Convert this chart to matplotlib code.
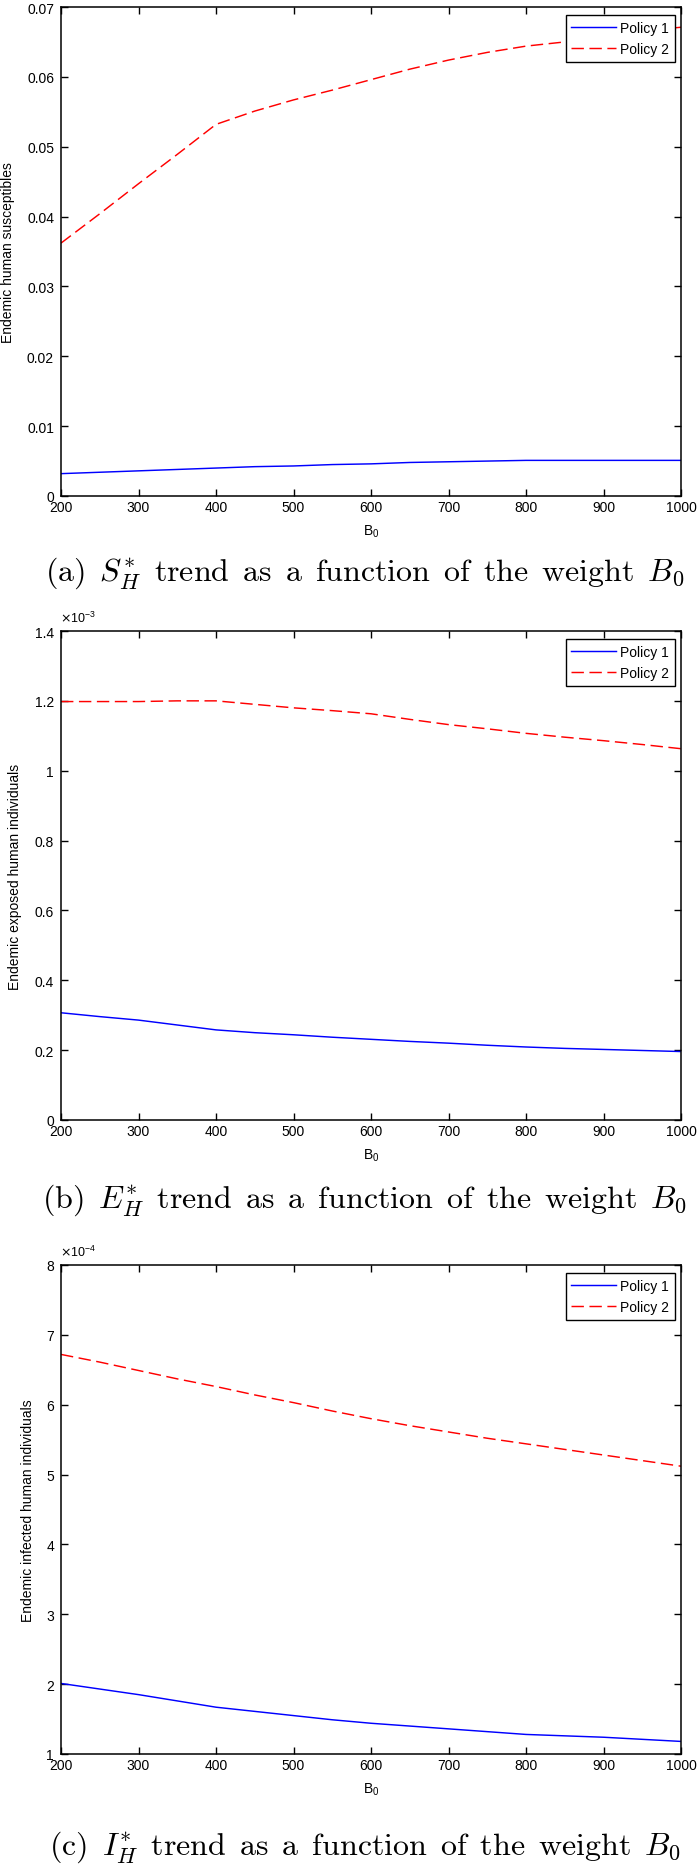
import matplotlib
matplotlib.use("Agg")
import matplotlib.pyplot as plt
from matplotlib.ticker import FuncFormatter

plt.rcParams['font.family'] = ['Liberation Sans', 'DejaVu Sans']

# ---------------- data ----------------
B0 = [200, 250, 300, 350, 400, 450, 500, 550, 600, 650, 700, 750, 800, 850, 900, 950, 1000]
xticks = [200, 300, 400, 500, 600, 700, 800, 900, 1000]

S_policy1 = [0.0032, 0.0034, 0.0036, 0.0038, 0.0040, 0.0042, 0.0043, 0.0045, 0.0046,
             0.0048, 0.0049, 0.0050, 0.0051, 0.0051, 0.0051, 0.0051, 0.0051]
S_policy2 = [0.0362, 0.0404, 0.0447, 0.0489, 0.0532, 0.0551, 0.0567, 0.0581, 0.0596,
             0.0611, 0.0624, 0.0635, 0.0644, 0.0650, 0.0660, 0.0666, 0.0671]

E_policy1 = [0.307e-3, 0.296e-3, 0.286e-3, 0.272e-3, 0.258e-3, 0.250e-3, 0.244e-3, 0.237e-3, 0.231e-3,
             0.225e-3, 0.220e-3, 0.214e-3, 0.209e-3, 0.205e-3, 0.202e-3, 0.199e-3, 0.196e-3]
E_policy2 = [1.198e-3, 1.198e-3, 1.198e-3, 1.200e-3, 1.200e-3, 1.190e-3, 1.180e-3, 1.172e-3, 1.163e-3,
             1.147e-3, 1.132e-3, 1.120e-3, 1.107e-3, 1.096e-3, 1.086e-3, 1.075e-3, 1.063e-3]

I_policy1 = [2.01e-4, 1.93e-4, 1.85e-4, 1.76e-4, 1.67e-4, 1.61e-4, 1.55e-4, 1.49e-4, 1.44e-4,
             1.40e-4, 1.36e-4, 1.32e-4, 1.28e-4, 1.26e-4, 1.24e-4, 1.21e-4, 1.18e-4]
I_policy2 = [6.72e-4, 6.61e-4, 6.49e-4, 6.37e-4, 6.26e-4, 6.14e-4, 6.03e-4, 5.91e-4, 5.80e-4,
             5.70e-4, 5.61e-4, 5.52e-4, 5.44e-4, 5.36e-4, 5.28e-4, 5.20e-4, 5.12e-4]

series_labels = ['Policy 1', 'Policy 2']
ylabels = ['Endemic human susceptibles', 'Endemic exposed human individuals',
           'Endemic infected human individuals']
SP = r'\ \,'
captions = [
    r'$\mathrm{(a)}' + SP + r'S_H^{*}' + SP + r'\mathrm{trend}' + SP + r'\mathrm{as}' + SP + r'\mathrm{a}' + SP
    + r'\mathrm{function}' + SP + r'\mathrm{of}' + SP + r'\mathrm{the}' + SP + r'\mathrm{weight}' + SP + r'B_0$',
    r'$\mathrm{(b)}' + SP + r'E_H^{*}' + SP + r'\mathrm{trend}' + SP + r'\mathrm{as}' + SP + r'\mathrm{a}' + SP
    + r'\mathrm{function}' + SP + r'\mathrm{of}' + SP + r'\mathrm{the}' + SP + r'\mathrm{weight}' + SP + r'B_0$',
    r'$\mathrm{(c)}' + SP + r'I_H^{*}' + SP + r'\mathrm{trend}' + SP + r'\mathrm{as}' + SP + r'\mathrm{a}' + SP
    + r'\mathrm{function}' + SP + r'\mathrm{of}' + SP + r'\mathrm{the}' + SP + r'\mathrm{weight}' + SP + r'B_0$',
]

panels = [
    dict(p1=S_policy1, p2=S_policy2, scale=1.0, exp=None,
         yticks=[0, 0.01, 0.02, 0.03, 0.04, 0.05, 0.06, 0.07], ylim=(0, 0.07)),
    dict(p1=E_policy1, p2=E_policy2, scale=1e-3, exp=-3,
         yticks=[0, 0.2, 0.4, 0.6, 0.8, 1.0, 1.2, 1.4], ylim=(0, 1.4)),
    dict(p1=I_policy1, p2=I_policy2, scale=1e-4, exp=-4,
         yticks=[1, 2, 3, 4, 5, 6, 7, 8], ylim=(1, 8)),
]

# ---------------- layout (pixels) ----------------
W, H = 697, 1865
fig = plt.figure(figsize=(W / 100, H / 100), dpi=100)
ax_left, ax_right = 61, 681
ax_tops = [8, 632, 1266]
ax_h = 489
ylabel_x = [7.5, 15, 27.5]
caption_y = [573, 1200, 1847]

for i, pnl in enumerate(panels):
    top = ax_tops[i]
    ax = fig.add_axes([ax_left / W, 1 - (top + ax_h) / H, (ax_right - ax_left) / W, ax_h / H])
    y1 = [v / pnl['scale'] for v in pnl['p1']]
    y2 = [v / pnl['scale'] for v in pnl['p2']]
    ax.plot(B0, y1, color=(0, 0, 1), lw=1.05, label=series_labels[0])
    ax.plot(B0, y2, color=(1, 0, 0), lw=1.05, ls=(0, (8.5, 3.8)), label=series_labels[1])
    ax.set_xlim(200, 1000)
    ax.set_ylim(*pnl['ylim'])
    ax.set_xticks(xticks)
    ax.set_yticks(pnl['yticks'])
    ax.yaxis.set_major_formatter(FuncFormatter(lambda v, p: '%g' % round(v, 6)))
    ax.xaxis.set_major_formatter(FuncFormatter(lambda v, p: '%g' % v))
    ax.tick_params(direction='in', length=5, width=1.0, top=True, right=True,
                   labelsize=10, colors='black')
    ax.tick_params(axis='y', pad=5)
    ax.tick_params(axis='x', pad=3)
    for sp in ax.spines.values():
        sp.set_linewidth(1.1)

    ax.set_ylabel(ylabels[i], fontsize=10)
    ax.yaxis.label.set_verticalalignment('center')
    ax.yaxis.set_label_coords((ylabel_x[i] - ax_left) / (ax_right - ax_left), 0.5)

    ax.set_xlabel(r'$\mathregular{B_0}$', fontsize=10)
    ax.xaxis.label.set_verticalalignment('center')
    ax.xaxis.set_label_coords(0.5, -35 / ax_h)

    if pnl['exp'] is not None:
        ax.text(-0.002, 1 + 14 / ax_h, r'$\times\mathregular{10^{%d}}$' % pnl['exp'],
                transform=ax.transAxes, ha='left', va='center', fontsize=9)

    leg = ax.legend(loc='upper right', bbox_to_anchor=(1 - 6 / 620, 1 - 8 / ax_h),
                    borderaxespad=0, fontsize=10, fancybox=False, framealpha=1,
                    edgecolor='black', handlelength=3.2, handletextpad=0.35,
                    borderpad=0.4, labelspacing=0.55)
    leg.get_frame().set_linewidth(1.0)

    fig.text(364.5 / W, 1 - caption_y[i] / H, captions[i], ha='center', va='center',
             fontsize=23, math_fontfamily='cm')

fig.savefig('out.png', dpi=100, facecolor='white')
